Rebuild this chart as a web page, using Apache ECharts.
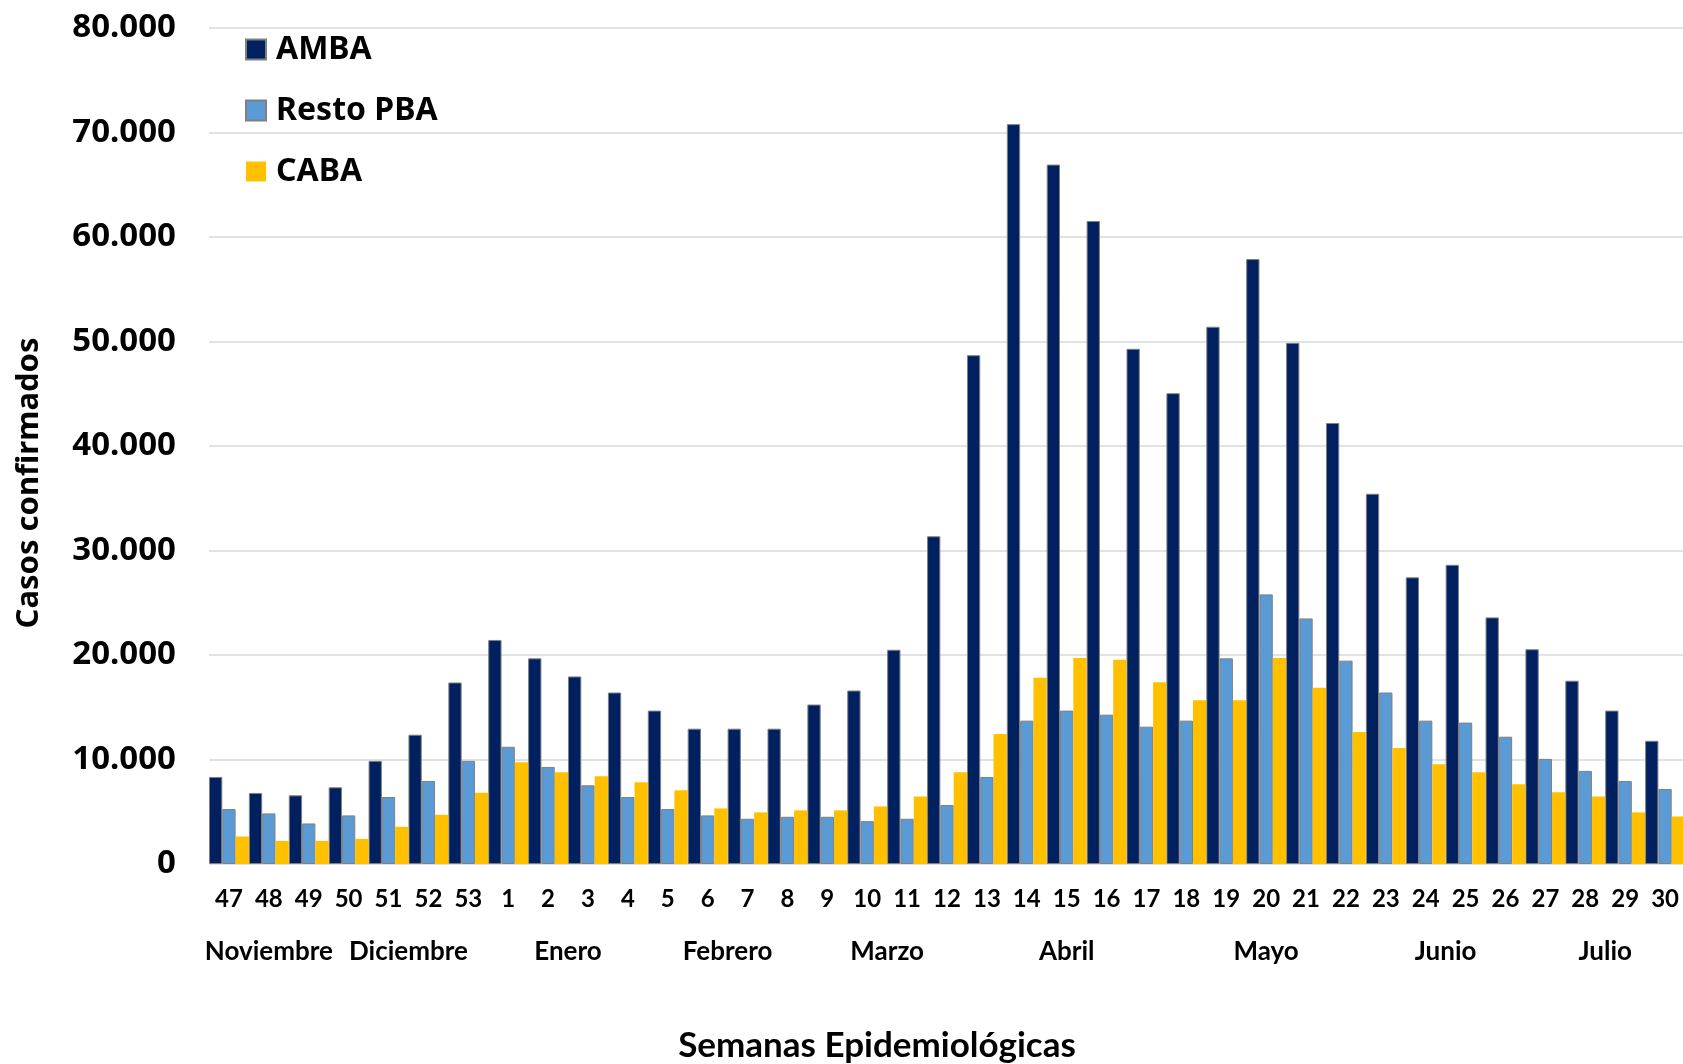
<!DOCTYPE html>
<html>
<head>
<meta charset="utf-8">
<script src="https://cdn.jsdelivr.net/npm/echarts@6/dist/echarts.min.js"></script>
<style>
  html, body { margin: 0; padding: 0; background: #fff; }
  #chart { width: 1683px; height: 1064px; }
</style>
</head>
<body>
<div id="chart"></div>
<script>
// casos confirmados por semana epidemiologica

var semanas = ['47', '48', '49', '50', '51', '52', '53',
    '1', '2', '3', '4', '5', '6', '7', '8', '9', '10', '11', '12', '13', '14', '15',
    '16', '17', '18', '19', '20', '21', '22', '23', '24', '25', '26', '27', '28', '29', '30'];

var amba = [8330, 6800, 6570, 7340, 9870, 12370, 17370,
    21440, 19680, 17950, 16410, 14680, 12950, 12950, 12950, 15260, 16600, 20500, 31360, 48690, 70800, 66930,
    61530, 49300, 45050, 51410, 57890, 49870, 42200, 35430, 27430, 28630, 23600, 20550, 17540, 14680, 11790];

var restoPBA = [5260, 4840, 3880, 4650, 6410, 7950, 9870,
    11220, 9290, 7530, 6410, 5260, 4650, 4330, 4520, 4520, 4100, 4330, 5640, 8330, 13720, 14680,
    14290, 13140, 13720, 19680, 25800, 23500, 19460, 16410, 13720, 13530, 12180, 10060, 8910, 7950, 7180];

var caba = [2630, 2210, 2210, 2400, 3560, 4710, 6830,
    9740, 8780, 8400, 7820, 7050, 5320, 4940, 5130, 5130, 5510, 6470, 8780, 12440, 17820, 19710,
    19550, 17400, 15670, 15670, 19710, 16860, 12630, 11090, 9550, 8780, 7630, 6860, 6470, 4940, 4550];

// meses: nombre y posicion (en indice de semana) debajo del eje
var meses = ['Noviembre', 'Diciembre', 'Enero', 'Febrero', 'Marzo', 'Abril', 'Mayo', 'Junio', 'Julio'];
var mesesPos = [1, 4.5, 8.5, 12.5, 16.5, 21, 26, 30.5, 34.5];

var chart = echarts.init(document.getElementById('chart'));

function miles(v) {
    return String(v).replace(/\B(?=(\d{3})+(?!\d))/g, '.');
}

var borde = { borderColor: '#808080', borderWidth: 1 };

option = {
    animation: false,
    grid: {
        left: 209,
        top: 28,
        width: 1476,
        bottom: 200,
        outerBoundsMode: 'none' // que no achique la grilla por los textos
    },
    legend: {
        orient: 'vertical',
        left: 240,
        top: 28,
        icon: 'rect',
        itemWidth: 20,
        itemHeight: 20,
        itemGap: 28,
        textStyle: {
            fontFamily: 'Noto Sans',
            fontWeight: 'bold',
            fontSize: 32,
            lineHeight: 33,
            color: '#000',
            padding: [0, 0, 0, 5]
        },
        data: ['AMBA', 'Resto PBA', 'CABA']
    },
    xAxis: [
        {
            type: 'category',
            data: semanas,
            axisLine: { show: false },
            axisTick: { show: false },
            axisLabel: {
                interval: 0,
                margin: 23,
                fontFamily: 'Lato',
                fontWeight: 'bold',
                fontSize: 24,
                color: '#000'
            },
            name: 'Semanas Epidemiológicas',
            nameLocation: 'middle',
            nameGap: 164,
            nameTextStyle: {
                fontFamily: 'Lato',
                fontWeight: 'bold',
                fontSize: 35,
                lineHeight: 36,
                color: '#000',
                padding: [0, 140, 0, 0]
            }
        },
        {
            // eje auxiliar solo para los nombres de los meses
            type: 'value',
            position: 'bottom',
            min: -0.5,
            max: 36.5,
            axisLine: { show: false },
            axisTick: { show: false },
            splitLine: { show: false },
            axisLabel: {
                customValues: mesesPos,
                margin: 75,
                fontFamily: 'Lato',
                fontWeight: 'bold',
                fontSize: 26,
                color: '#000',
                formatter: function (v) {
                    var i = mesesPos.indexOf(v);
                    return i >= 0 ? meses[i] : '';
                }
            }
        }
    ],
    yAxis: {
        type: 'value',
        min: 0,
        max: 80000,
        interval: 10000,
        axisLine: { show: false },
        axisTick: { show: false },
        splitLine: { lineStyle: { color: '#d9d9d9', width: 1.5 } },
        axisLabel: {
            margin: 33,
            fontFamily: 'Noto Sans',
            fontWeight: 'bold',
            fontSize: 33,
            color: '#000',
            formatter: miles
        },
        name: 'Casos confirmados',
        nameLocation: 'middle',
        nameGap: 164,
        nameRotate: 90,
        nameTextStyle: {
            fontFamily: 'Noto Sans',
            fontWeight: 'bold',
            fontSize: 31,
            lineHeight: 32,
            color: '#000',
            padding: [0, 74, 0, 0]
        }
    },
    series: [
        {
            name: 'AMBA',
            type: 'bar',
            barGap: '0%',
            barCategoryGap: '0%',
            itemStyle: Object.assign({ color: '#002060' }, borde),
            data: amba
        }, {
            name: 'Resto PBA',
            type: 'bar',
            barGap: '0%',
            barCategoryGap: '0%',
            itemStyle: Object.assign({ color: '#5b9bd5' }, borde),
            data: restoPBA
        }, {
            name: 'CABA',
            type: 'bar',
            barGap: '0%',
            barCategoryGap: '0%',
            itemStyle: { color: '#ffc000' },
            data: caba
        }
    ]
};
chart.setOption(option);
</script>
</body>
</html>
